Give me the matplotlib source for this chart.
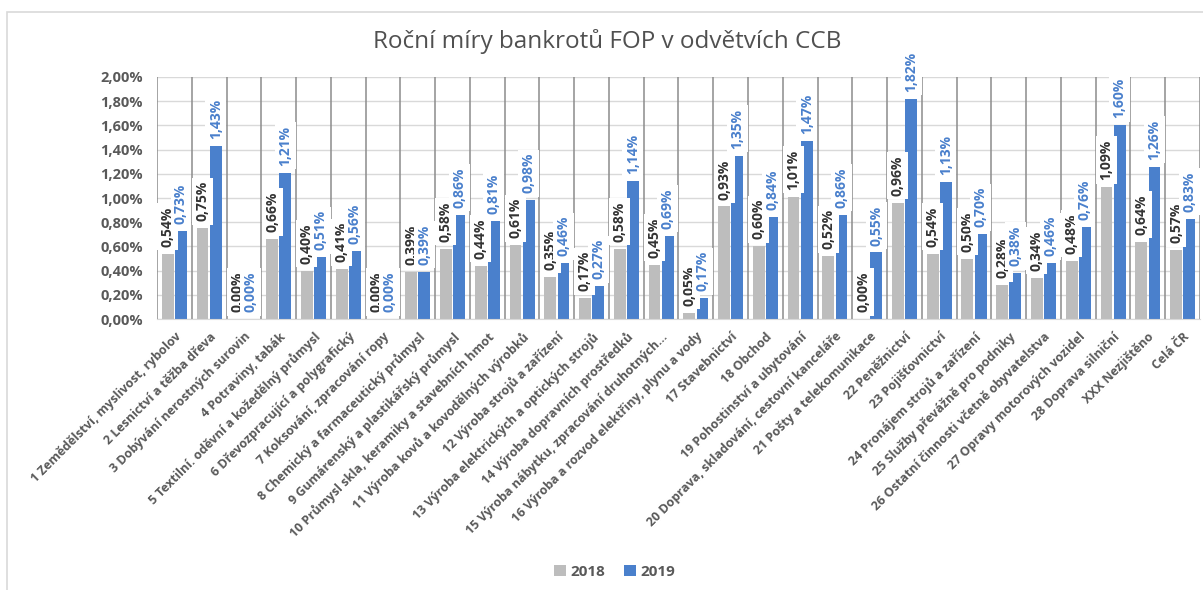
import numpy as np
import matplotlib.pyplot as plt
from matplotlib.patches import Rectangle
from matplotlib.ticker import FuncFormatter

categories = [
    "1 Zemědělství, myslivost, rybolov",
    "2 Lesnictví a těžba dřeva",
    "3 Dobývání nerostných surovin",
    "4 Potraviny, tabák",
    "5 Textilní. oděvní a kožedělný průmysl",
    "6 Dřevozpracující a polygrafický",
    "7 Koksování, zpracování ropy",
    "8 Chemický a farmaceutický průmysl",
    "9 Gumárenský a plastikářský průmysl",
    "10 Průmysl skla, keramiky a stavebních hmot",
    "11 Výroba kovů a kovodělných výrobků",
    "12 Výroba strojů a zařízení",
    "13 Výroba elektrických a optických strojů",
    "14 Výroba dopravních prostředků",
    "15 Výroba nábytku, zpracování druhotných...",
    "16 Výroba a rozvod elektřiny, plynu a vody",
    "17 Stavebnictví",
    "18 Obchod",
    "19 Pohostinství a ubytování",
    "20 Doprava, skladování, cestovní kanceláře",
    "21 Pošty a telekomunikace",
    "22 Peněžnictví",
    "23 Pojišťovnictví",
    "24 Pronájem strojů a zařízení",
    "25 Služby převážně pro podniky",
    "26 Ostatní činnosti včetně obyvatelstva",
    "27 Opravy motorových vozidel",
    "28 Doprava silniční",
    "XXX Nezjištěno",
    "Celá ČR",
]

rates_2018 = [0.54, 0.75, 0.00, 0.66, 0.40, 0.41, 0.00, 0.39, 0.58, 0.44,
              0.61, 0.35, 0.17, 0.58, 0.45, 0.05, 0.93, 0.60, 1.01, 0.52,
              0.00, 0.96, 0.54, 0.50, 0.28, 0.34, 0.48, 1.09, 0.64, 0.57]
rates_2019 = [0.73, 1.43, 0.00, 1.21, 0.51, 0.56, 0.00, 0.39, 0.86, 0.81,
              0.98, 0.46, 0.27, 1.14, 0.69, 0.17, 1.35, 0.84, 1.47, 0.86,
              0.55, 1.82, 1.13, 0.70, 0.38, 0.46, 0.76, 1.60, 1.26, 0.83]

series_names = ["2018", "2019"]

grey = "#bdbdbd"
blue = "#4a80cc"
txt = "#595959"

plt.rcParams['font.family'] = ['Open Sans', 'DejaVu Sans']

fig = plt.figure(figsize=(12.03, 5.90), dpi=100)
ax = fig.add_axes([0.1305, 0.4593, 0.867, 0.4102])

# light frame around the chart
fig.patches.append(Rectangle((7 / 1203, -0.1), 1.2, 0.1 + (590 - 12) / 590,
                             transform=fig.transFigure, fill=False,
                             edgecolor="#d9d9d9", linewidth=1.2, zorder=0))

ind = np.arange(len(categories))
w = 0.34
off = 0.19

b1 = ax.bar(ind - off, rates_2018, w, color=grey, zorder=2, label=series_names[0])
b2 = ax.bar(ind + off, rates_2019, w, color=blue, zorder=2, label=series_names[1])

# vertical separators between categories
for xb in np.arange(-0.5, len(categories) + 0.5, 1):
    ax.axvline(xb, color="#8c8c8c", linewidth=1.1, zorder=1)

fmt = lambda v: f"{v:.2f}%".replace(".", ",")

for bars, col in [(b1, "#333333"), (b2, blue)]:
    for r in bars:
        h = r.get_height()
        ax.annotate(fmt(h), (r.get_x() + r.get_width() / 2, h),
                    xytext=(0, 5), textcoords="offset points",
                    rotation=90, ha="center", va="bottom",
                    fontsize=10, fontweight="bold", color=col, zorder=3,
                    bbox=dict(boxstyle="square,pad=0.25", fc="white", ec="none"))

ax.set_xlim(-0.5, len(categories) - 0.5)
ax.set_ylim(0, 2.0)
ax.set_yticks(np.arange(0, 2.01, 0.2))
ax.yaxis.set_major_formatter(FuncFormatter(lambda v, p: fmt(v)))
ax.yaxis.grid(True, color="#d9d9d9", linewidth=1, zorder=0)
ax.set_axisbelow(True)

ax.set_xticks(ind)
ax.set_xticklabels(categories, rotation=45, ha="right", rotation_mode="anchor")
for lab in ax.get_xticklabels():
    lab.set_fontweight("bold")
    lab.set_fontsize(9)
    lab.set_color(txt)
for lab in ax.get_yticklabels():
    lab.set_fontweight("bold")
    lab.set_fontsize(10.5)
    lab.set_color(txt)

ax.tick_params(axis="both", length=0)
ax.tick_params(axis="x", pad=8)
ax.tick_params(axis="y", pad=10)
for s in ["top", "right", "left"]:
    ax.spines[s].set_visible(False)
ax.spines["bottom"].set_color("#d9d9d9")

fig.text(0.505, 0.929, "Roční míry bankrotů FOP v odvětvích CCB",
         ha="center", va="center", fontsize=17.5, color="#505050")

leg = fig.legend(handles=[b1, b2], loc="center", bbox_to_anchor=(0.511, 0.031),
                 ncol=2, frameon=False, handlelength=0.8, handleheight=0.8,
                 columnspacing=1.2, handletextpad=0.3,
                 prop={"weight": "bold", "size": 11})
for t in leg.get_texts():
    t.set_color(txt)

fig.savefig("out.png", dpi=100)
